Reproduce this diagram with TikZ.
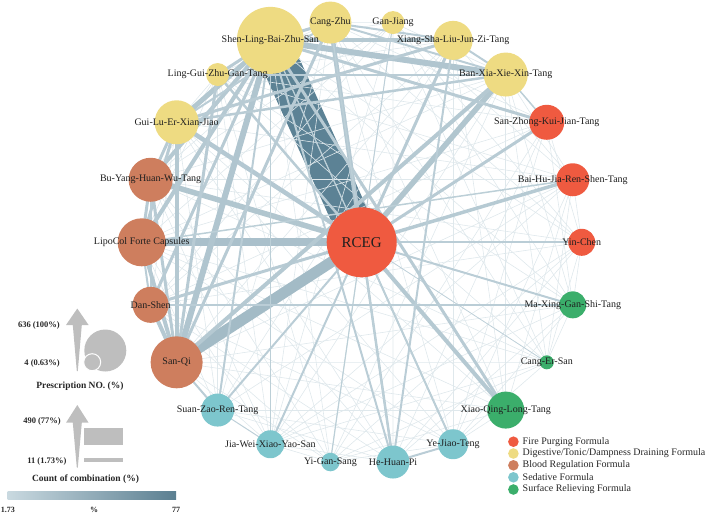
\documentclass[tikz,border=0pt]{standalone}
\usepackage{fontspec}
\setmainfont{Liberation Serif}
\definecolor{fire}{HTML}{EF5A40}
\definecolor{dig}{HTML}{EEDB82}
\definecolor{blood}{HTML}{CE7E5E}
\definecolor{seda}{HTML}{7DC6CD}
\definecolor{surf}{HTML}{3BAE6B}
\definecolor{elt}{HTML}{BFD1D9}
\definecolor{edk}{HTML}{5C8295}
\definecolor{ethin}{HTML}{DFE8EC}
\definecolor{lgray}{HTML}{BEBEBE}
\definecolor{gradL}{HTML}{C9D9E0}
\definecolor{gradR}{HTML}{5B7F91}
\pgfdeclarelayer{edges}
\pgfsetlayers{edges,main}
\begin{document}
\begin{tikzpicture}[x=1pt,y=-1pt,
  fnode/.style={circle,inner sep=0pt,draw=none,fill=#1},
  lab/.style={inner sep=0pt,font=\fontsize{10}{12}\selectfont,text=black!88},
  thinedge/.style={draw=ethin,line width=0.6pt},
  legnum/.style={inner sep=0pt,font=\bfseries\fontsize{8.5}{10}\selectfont,text=black!85},
  legtitle/.style={inner sep=0pt,font=\bfseries\fontsize{9.5}{11}\selectfont,text=black!85},
  legtext/.style={inner sep=0pt,anchor=west,font=\fontsize{10}{12}\selectfont,text=black!85}]
\useasboundingbox (0,0) rectangle (708,514);

% ring nodes
\foreach \k/\d/\c in {0/27/fire,1/33/fire,2/35/fire,3/44/dig,4/39/dig,5/23/dig,6/42/dig,7/67/dig,8/23/dig,9/44/dig,10/44/blood,11/48/blood,12/36/blood,13/52/blood,14/33/seda,15/28/seda,16/18.5/seda,17/33/seda,18/30/seda,19/37/surf,20/14/surf,21/27/surf}
  {\node[fnode=\c,minimum size=\d pt] (n\k) at ({361.7+220*cos(\k*360/22)},{242.3-222*sin(\k*360/22)}) {};}
\node[fnode=fire,minimum size=70pt] (rc) at (361.7,242.3) {};

% labels
\foreach \k/\t in {0/Yin-Chen,1/Bai-Hu-Jia-Ren-Shen-Tang,2/San-Zhong-Kui-Jian-Tang,3/Ban-Xia-Xie-Xin-Tang,4/Xiang-Sha-Liu-Jun-Zi-Tang,5/Gan-Jiang,6/Cang-Zhu,7/Shen-Ling-Bai-Zhu-San,8/Ling-Gui-Zhu-Gan-Tang,9/Gui-Lu-Er-Xian-Jiao,10/Bu-Yang-Huan-Wu-Tang,11/LipoCol Forte Capsules,12/Dan-Shen,13/San-Qi,14/Suan-Zao-Ren-Tang,15/Jia-Wei-Xiao-Yao-San,16/Yi-Gan-Sang,17/He-Huan-Pi,18/Ye-Jiao-Teng,19/Xiao-Qing-Long-Tang,20/Cang-Er-San,21/Ma-Xing-Gan-Shi-Tang}
  {\node[lab] (t\k) at (n\k.center) {\t};}
\node[inner sep=0pt,font=\fontsize{15}{18}\selectfont,text=black!88] (trc) at (rc.center) {RCEG};

% edges
\begin{pgfonlayer}{edges}
\draw[line width=38pt,draw=edk] (rc.center) -- (n7.center);
\foreach \i in {0,...,20}{
  \pgfmathtruncatemacro\s{\i+1}
  \foreach \j in {\s,...,21}{
    \pgfmathtruncatemacro\m{mod(\i*7+\j*11,5)}
    \ifnum\m<3 \draw[thinedge] (n\i.center) -- (n\j.center);\fi
  }}
\foreach \a/\b/\w in {rc/n0/2,rc/n1/3.5,rc/n2/3,rc/n3/5.5,rc/n4/3,rc/n5/1,rc/n6/4.5,rc/n8/2.5,rc/n9/4.5,rc/n10/5.5,rc/n11/8,rc/n12/3,rc/n13/11,rc/n14/2,rc/n15/2,rc/n16/1.2,rc/n17/2.5,rc/n18/2,rc/n19/4,rc/n20/0.8,rc/n21/2,
  n7/n4/4,n7/n3/6,n7/n2/3,n7/n6/3,n7/n8/3,n7/n9/5,n7/n10/4,n7/n11/4,n7/n12/3,n7/n13/6,n7/n14/2,n7/n15/1.5,n7/n17/2,n7/n19/3,n7/n18/1.2,
  n6/n4/2,n6/n13/3,n6/n3/2,n6/n17/1.5,n6/n9/2,
  n9/n4/3,n9/n3/2.5,n9/n13/4,n9/n10/3,n9/n11/3,
  n8/n13/3,n8/n3/2,n10/n13/3,n10/n11/3,n10/n12/2,
  n11/n13/4,n11/n12/2,n12/n13/4,n12/n21/2,n13/n3/4,n13/n14/2,
  n4/n17/2,n4/n3/2,n3/n2/1.5,n17/n18/2,n14/n15/1,n11/n1/1.5}
  {\pgfmathtruncatemacro\pp{min(100,\w*100/38)}
   \draw[line width=\w pt,draw=edk!\pp!elt] (\a.center) -- (\b.center);}
\end{pgfonlayer}

% left legend: prescription number
\fill[lgray] (77.3,308.5) -- (88.6,325) -- (81.8,325) -- (77.8,371) -- (76.8,371) -- (72.8,325) -- (66,325) -- cycle;
\fill[lgray] (105.3,350.5) circle (21);
\filldraw[fill=lgray,draw=white,line width=1pt] (92.2,362.2) circle (8.5);
\node[legnum,anchor=east] (p1) at (60,325) {636 (100\%)};
\node[legnum,anchor=east] (p2) at (60,363.3) {4 (0.63\%)};
\node[legtitle] (p3) at (80,386) {Prescription NO. (\%)};

% left legend: count of combination
\fill[lgray] (77.3,405) -- (88.6,422.7) -- (81.8,422.7) -- (77.8,467.5) -- (76.8,467.5) -- (72.8,422.7) -- (66,422.7) -- cycle;
\fill[lgray] (84,428) rectangle (123,444.5);
\fill[lgray] (83.5,458) rectangle (123,461.5);
\node[legnum,anchor=east] (c1) at (61,421.7) {490 (77\%)};
\node[legnum,anchor=east] (c2) at (66.7,461.7) {11 (1.73\%)};
\node[legtitle] (c3) at (85.5,479) {Count of combination (\%)};

% gradient bar
\shade[left color=gradL,right color=gradR] (7.5,491.5) rectangle (176,499);
\node[legnum,font=\bfseries\fontsize{8}{9}\selectfont] (g1) at (8,509.5) {1.73};
\node[legnum,font=\bfseries\fontsize{8}{9}\selectfont] (g2) at (94,509.5) {\%};
\node[legnum,font=\bfseries\fontsize{8}{9}\selectfont] (g3) at (176,509.5) {77};

% right legend
\foreach \y/\c/\t in {441.7/fire/{Fire Purging Formula},453.5/dig/{Digestive/Tonic/Dampness Draining Formula},465.3/blood/{Blood Regulation Formula},477.3/seda/{Sedative Formula},489.5/surf/{Surface Relieving Formula}}
  {\fill[\c] (513.4,\y) circle (5.3);
   \node[legtext] at (522.5,\y) {\t};}
\end{tikzpicture}
\end{document}
